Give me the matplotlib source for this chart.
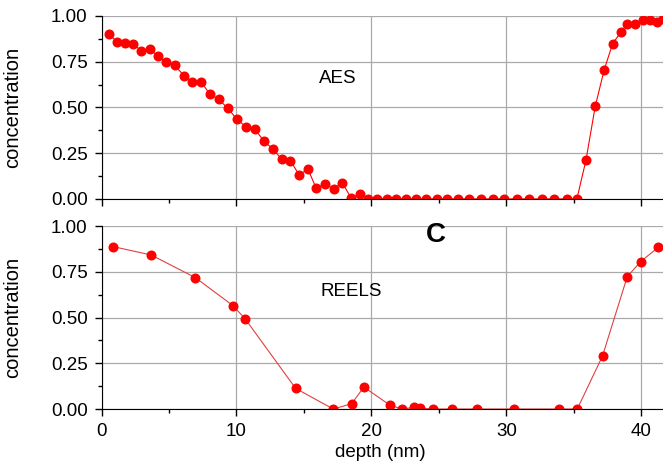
import matplotlib.pyplot as plt
from matplotlib.ticker import MultipleLocator

plt.rcParams['font.family'] = ['Liberation Sans', 'DejaVu Sans']

# AES depth profile
aes_depth = [0.56, 1.17, 1.74, 2.36, 2.95, 3.57, 4.19, 4.80, 5.42, 6.11,
             6.73, 7.37, 8.01, 8.68, 9.35, 10.04, 10.70, 11.35, 12.04, 12.70,
             13.35, 13.99, 14.63, 15.30, 15.90, 16.56, 17.20, 17.84, 18.50, 19.15,
             19.76, 20.43, 21.15, 21.84, 22.56, 23.30, 24.04, 24.83, 25.61, 26.39,
             27.22, 28.11, 28.98, 29.84, 30.76, 31.69, 32.63, 33.54, 34.46, 35.22,
             35.89, 36.58, 37.24, 37.87, 38.46, 38.95, 39.54, 40.09, 40.63, 41.17,
             41.57]
aes_conc = [0.90, 0.856, 0.854, 0.845, 0.81, 0.82, 0.78, 0.75, 0.73, 0.674,
            0.641, 0.641, 0.574, 0.545, 0.496, 0.435, 0.395, 0.384, 0.315, 0.273,
            0.217, 0.21, 0.133, 0.162, 0.06, 0.082, 0.056, 0.089, 0.004, 0.027,
            0.0, 0.0, 0.0, 0.0, 0.0, 0.0, 0.0, 0.0, 0.0, 0.0,
            0.0, 0.0, 0.0, 0.0, 0.0, 0.0, 0.0, 0.0, 0.0, 0.0,
            0.211, 0.506, 0.705, 0.849, 0.91, 0.956, 0.956, 0.98, 0.98, 0.967,
            0.985]

# REELS depth profile
reels_depth = [0.88, 3.67, 6.95, 9.74, 10.65, 14.38, 17.17, 18.53, 19.44, 21.35,
               22.26, 23.17, 23.62, 24.58, 25.99, 27.84, 30.58, 33.87, 35.25, 37.12,
               38.95, 39.94, 41.25]
reels_conc = [0.887, 0.842, 0.718, 0.565, 0.492, 0.113, 0.0, 0.029, 0.12, 0.022,
              0.0, 0.009, 0.004, 0.0, 0.0, 0.0, 0.0, 0.0, 0.0, 0.29,
              0.723, 0.805, 0.884]

fig = plt.figure(figsize=(6.63, 4.75), dpi=100)
ax1 = fig.add_axes([0.1531, 0.5811, 0.8469, 0.3853])
ax2 = fig.add_axes([0.1531, 0.1389, 0.8469, 0.3853])


def style_axes(ax, show_xlabels):
    ax.set_xlim(0, 41.6)
    ax.set_ylim(0, 1.0)
    ax.xaxis.set_major_locator(MultipleLocator(10))
    ax.xaxis.set_minor_locator(MultipleLocator(5))
    ax.yaxis.set_major_locator(MultipleLocator(0.25))
    ax.yaxis.set_minor_locator(MultipleLocator(0.125))
    ax.yaxis.set_major_formatter(lambda v, p: f"{v:.2f}")
    ax.spines['top'].set_visible(False)
    ax.spines['right'].set_visible(False)
    ax.grid(True, which='major', color='#aaaaaa', linewidth=0.9)
    ax.set_axisbelow(True)
    ax.tick_params(which='major', direction='out', length=5, width=1, labelsize=13.5, pad=5)
    ax.tick_params(which='minor', direction='out', length=2.8, width=1)
    ax.tick_params(axis='x', labelbottom=show_xlabels)
    ax.set_ylabel("concentration", fontsize=14.5)
    ax.yaxis.set_label_coords(-0.142, 0.5)


style_axes(ax1, False)
style_axes(ax2, True)

ax1.plot(aes_depth, aes_conc, color='red', linewidth=0.8,
         marker='o', markersize=6.2, markerfacecolor='red', markeredgecolor='red')
ax1.text(17.5, 0.66, "AES", fontsize=13.5, ha='center', va='center')

ax2.plot(reels_depth, reels_conc, color='#e04040', linewidth=0.8,
         marker='o', markersize=6.2, markerfacecolor='red', markeredgecolor='red')
ax2.text(18.5, 0.64, "REELS", fontsize=13.5, ha='center', va='center')
ax2.text(24.75, 0.95, "C", fontsize=20, fontweight='bold', ha='center', va='center')

ax2.set_xlabel("depth (nm)", fontsize=13.5)
ax2.xaxis.set_label_coords(0.496, -0.19)

plt.savefig("out.png", dpi=100)
